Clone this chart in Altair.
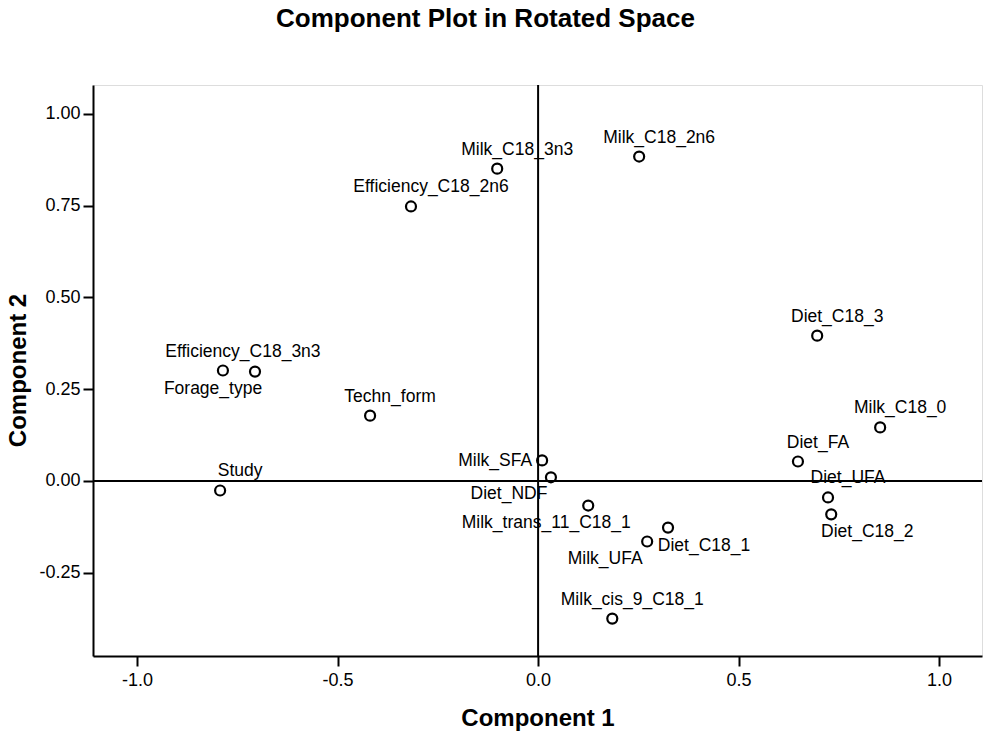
import altair as alt
import pandas as pd

# Variable names and rotated component loadings
names = [
    "Milk_C18_2n6", "Milk_C18_3n3", "Efficiency_C18_2n6", "Diet_C18_3",
    "Efficiency_C18_3n3", "Forage_type", "Techn_form", "Milk_C18_0",
    "Diet_FA", "Milk_SFA", "Diet_NDF", "Study", "Diet_UFA", "Diet_C18_2",
    "Milk_trans_11_C18_1", "Diet_C18_1", "Milk_UFA", "Milk_cis_9_C18_1",
]
comp1 = [0.252, -0.102, -0.317, 0.696, -0.786, -0.706, -0.419, 0.853,
         0.648, 0.010, 0.032, -0.793, 0.723, 0.731, 0.125, 0.324, 0.272, 0.185]
comp2 = [0.884, 0.851, 0.748, 0.396, 0.301, 0.298, 0.178, 0.146,
         0.053, 0.056, 0.010, -0.026, -0.045, -0.091, -0.067, -0.127, -0.165, -0.375]
# where each label sits relative to its point
placement = ["above", "above", "above", "above", "above", "belowleft", "above", "above",
             "above", "left", "belowleft", "above", "above", "belowright",
             "belowleft", "belowright", "belowleft", "above"]

x_ticks = [-1.0, -0.5, 0.0, 0.5, 1.0]
y_ticks = [-0.25, 0.0, 0.25, 0.5, 0.75, 1.0]

df = pd.DataFrame({"name": names, "c1": comp1, "c2": comp2, "pos": placement})
zero = pd.DataFrame({"z": [0.0]})

FONT = "Liberation Sans"

xscale = alt.Scale(domain=[-1.11, 1.107], nice=False, zero=False)
yscale = alt.Scale(domain=[-0.477, 1.079], nice=False, zero=False)

axis_common = dict(
    grid=False, domainColor="black", domainWidth=2, tickColor="black",
    tickWidth=2, tickSize=10, labelColor="black", labelFont=FONT,
    labelFontSize=18, titleFont=FONT, titleFontSize=24, titleFontWeight="bold",
    titleColor="black",
)

X = alt.X("c1:Q", scale=xscale, title="Component 1",
          axis=alt.Axis(values=x_ticks, labelPadding=5,
                        labelExpr="replace(format(datum.value, '.1f'), '\u2212', '-')",
                        titleY=62, titleBaseline="middle", **axis_common))
Y = alt.Y("c2:Q", scale=yscale, title="Component 2",
          axis=alt.Axis(values=y_ticks, labelPadding=3,
                        labelExpr="replace(format(datum.value, '.2f'), '\u2212', '-')",
                        titleX=-75, titleY=285, titleAlign="center",
                        titleBaseline="middle", **axis_common))

base = alt.Chart(df)

vrule = alt.Chart(zero).mark_rule(color="black", strokeWidth=2).encode(x=alt.X("z:Q", scale=xscale))
hrule = alt.Chart(zero).mark_rule(color="black", strokeWidth=2).encode(y=alt.Y("z:Q", scale=yscale))

points = base.mark_point(shape="circle", filled=False, size=100, strokeWidth=2.2,
                         color="black", opacity=1).encode(x=X, y=Y)

offsets = {
    "above": dict(dx=20, dy=-19, align="center"),
    "belowleft": dict(dx=-42, dy=17, align="center"),
    "belowright": dict(dx=36, dy=18, align="center"),
    "left": dict(dx=-10, dy=1, align="right"),
}
texts = []
for key, o in offsets.items():
    texts.append(
        base.transform_filter(alt.datum.pos == key)
        .mark_text(font=FONT, fontSize=17.5, color="black", baseline="middle", **o)
        .encode(x=alt.X("c1:Q", scale=xscale), y=alt.Y("c2:Q", scale=yscale), text="name:N")
    )

chart = alt.layer(vrule, hrule, points, *texts).properties(
    width=889, height=571,
    title=alt.Title("Component Plot in Rotated Space", font=FONT, fontSize=26,
                    fontWeight="bold", color="black", anchor="middle", dx=-52,
                    baseline="alphabetic", offset=31),
    autosize=alt.AutoSizeParams(type="none"),
    padding={"left": 93, "top": 85, "right": 2, "bottom": 77},
).configure_view(stroke="black", strokeWidth=2).configure(background="white")

chart.save("out.html", embed_options={"renderer": "svg", "actions": False})
